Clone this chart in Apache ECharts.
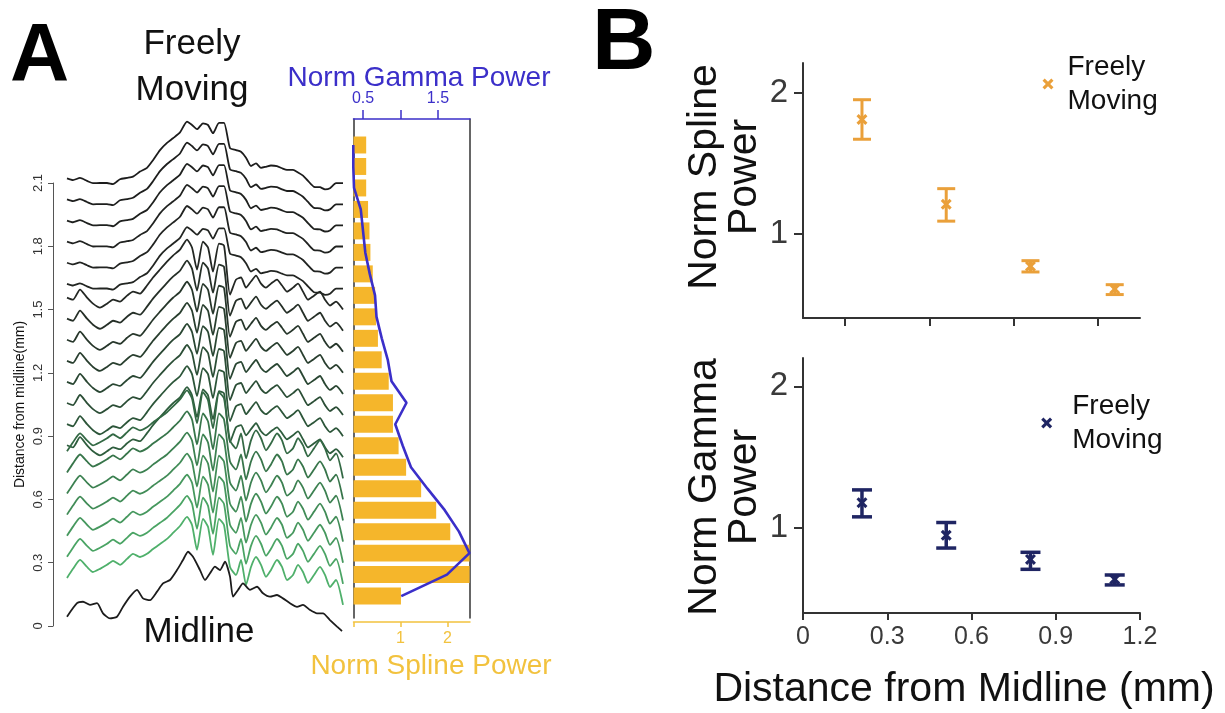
<!DOCTYPE html>
<html>
<head>
<meta charset="utf-8">
<script src="https://cdn.jsdelivr.net/npm/echarts@6/dist/echarts.min.js"></script>
<style>
  html, body { margin: 0; padding: 0; background: #fff; }
  #chart { width: 1225px; height: 713px; }
</style>
</head>
<body>
<div id="chart"></div>
<script>
// ---- panel A: stacked traces (time in samples, amplitude in mm above each baseline) ----
const TRACE_T = [0, 6, 13, 20, 26, 33, 40, 46, 53, 60, 66, 73, 80, 86, 93, 100, 106, 113, 120, 125,
    130, 136, 141, 146, 152, 157, 163, 169, 174, 179, 184, 189, 194, 199, 204, 210, 215, 220, 226, 231,
    236, 241, 247, 253, 258, 263, 269, 276];
const PROFILE_TOP = [0.022, 0.014, 0.024, 0.010, -0.001, 0.000, 0.000, -0.005, 0.018, 0.024,
    0.030, 0.054, 0.072, 0.108, 0.156, 0.190, 0.212, 0.240, 0.291, 0.275,
    0.255, 0.283, 0.275, 0.236, 0.285, 0.285, 0.165, 0.156, 0.148, 0.120,
    0.080, 0.093, 0.072, 0.077, 0.083, 0.080, 0.070, 0.062, 0.062, 0.050,
    0.035, 0.010, -0.018, -0.020, -0.030, -0.025, -0.001, -0.001];
const PROFILE_MID = [0.057, 0.047, 0.095, 0.057, 0.028, 0.009, 0.028, 0.047, 0.038, 0.066,
    0.085, 0.076, 0.114, 0.152, 0.190, 0.227, 0.256, 0.284, 0.332, 0.294,
    0.190, 0.322, 0.294, 0.180, 0.313, 0.303, 0.071, 0.142, 0.152, 0.104,
    0.133, 0.161, 0.123, 0.104, 0.123, 0.142, 0.114, 0.085, 0.104, 0.123,
    0.085, 0.047, 0.066, 0.085, 0.047, 0.019, 0.038, 0.000];
const PROFILE_LOW = [0.128, 0.171, 0.213, 0.180, 0.156, 0.171, 0.190, 0.209, 0.190, 0.218,
    0.242, 0.227, 0.242, 0.265, 0.289, 0.313, 0.341, 0.374, 0.417, 0.379,
    0.261, 0.408, 0.370, 0.237, 0.408, 0.379, 0.180, 0.142, 0.213, 0.095,
    0.180, 0.227, 0.190, 0.133, 0.166, 0.213, 0.180, 0.118, 0.142, 0.190,
    0.156, 0.104, 0.142, 0.180, 0.142, 0.085, 0.118, 0.000];
const TRACE_DIST = [2.1, 2.0, 1.9, 1.8, 1.7, 1.6, 1.5, 1.4, 1.3, 1.2, 1.1,
    1.0, 0.9, 0.8, 0.7, 0.6, 0.5, 0.4, 0.3, 0.2, 0.1];
const TRACE_SHAPE = ["top", "top", "top", "top", "top", "top", "mid", "mid", "mid", "mid", "mid",
    "mid", "mid", "mid", "low", "low", "low", "low", "low", "low", "low"];
const MIDLINE_T = [0, 10, 16, 23, 30, 36, 43, 50, 56, 63, 70, 76, 83, 90, 96, 103, 110, 116, 121, 126,
    133, 138, 143, 148, 153, 158, 163, 166, 171, 176, 183, 190, 196, 203, 210, 216, 223, 230, 236, 243,
    250, 256, 263, 270, 275];
const MIDLINE_V = [0.044, 0.108, 0.115, 0.100, 0.108, 0.060, 0.036, 0.044, 0.091, 0.139,
    0.171, 0.131, 0.123, 0.163, 0.202, 0.218, 0.265, 0.313, 0.352, 0.328,
    0.265, 0.218, 0.250, 0.281, 0.265, 0.305, 0.234, 0.139, 0.171, 0.202,
    0.171, 0.186, 0.155, 0.139, 0.147, 0.131, 0.108, 0.091, 0.100, 0.076,
    0.060, 0.060, 0.028, -0.003, -0.024];
const TRACE_TICKS = ["0", "0.3", "0.6", "0.9", "1.2", "1.5", "1.8", "2.1"];

// ---- panel A: inset bars, from the midline (0 mm) outwards ----
const BAR_DIST = [0, 0.1, 0.2, 0.3, 0.4, 0.5, 0.6, 0.7, 0.8, 0.9, 1.0,
    1.1, 1.2, 1.3, 1.4, 1.5, 1.6, 1.7, 1.8, 1.9, 2.0, 2.1];
const SPLINE_POWER = [1.01, 2.47, 2.47, 2.06, 1.76, 1.44, 1.12, 0.96, 0.84, 0.84, 0.75,
    0.60, 0.52, 0.48, 0.46, 0.41, 0.36, 0.34, 0.31, 0.27, 0.27, 0.27];
const GAMMA_POWER = [1.01, 1.62, 1.92, 1.78, 1.59, 1.36, 1.14, 1.03, 0.93, 1.08, 0.88,
    0.83, 0.75, 0.68, 0.66, 0.59, 0.53, 0.50, 0.47, 0.38, 0.37, 0.37];

// ---- panel B: mean and error range per distance ----
const B_DIST = [0.21, 0.51, 0.81, 1.11];
const B_SPLINE_MEAN = [1.81, 1.21, 0.77, 0.61];
const B_SPLINE_LO = [1.67, 1.09, 0.73, 0.57];
const B_SPLINE_HI = [1.95, 1.32, 0.81, 0.64];
const B_GAMMA_MEAN = [1.18, 0.95, 0.78, 0.64];
const B_GAMMA_LO = [1.08, 0.86, 0.71, 0.60];
const B_GAMMA_HI = [1.27, 1.04, 0.83, 0.67];

const FONT = '"Liberation Sans", Arial, sans-serif';
const BLUE = "#3b2fc9";
const YELLOW = "#f2c23e";
const BAR_COLOR = "#f5b62b";
const ORANGE = "#eaa03a";
const NAVY = "#1f2563";
const AXIS = "#333";
const X_ICON = "path://M2,0 L5,3 L8,0 L10,2 L7,5 L10,8 L8,10 L5,7 L2,10 L0,8 L3,5 L0,2 Z";

const PROFILES = { top: PROFILE_TOP, mid: PROFILE_MID, low: PROFILE_LOW };

function hexToRgb(h) {
    return [1, 3, 5].map((i) => parseInt(h.slice(i, i + 2), 16));
}

function traceColor(dist) {
    const stops = [[0, "#1c1c1c"], [0.3, "#232723"], [0.65, "#2e5d3d"], [1, "#4fb06b"]];
    const t = (2.1 - dist) / 2.0;
    for (let i = 1; i < stops.length; i++) {
        if (t <= stops[i][0]) {
            const [t0, c0] = stops[i - 1];
            const [t1, c1] = stops[i];
            const k = (t - t0) / (t1 - t0);
            const a = hexToRgb(c0), b = hexToRgb(c1);
            return "rgb(" + a.map((v, j) => Math.round(v + (b[j] - v) * k)).join(",") + ")";
        }
    }
    return stops[stops.length - 1][1];
}

function traceSeries() {
    const series = [];
    TRACE_DIST.forEach((d, i) => {
        const prof = PROFILES[TRACE_SHAPE[i]];
        series.push({
            type: "line", xAxisIndex: 0, yAxisIndex: 0, silent: true, clip: false,
            showSymbol: false, smooth: 0.2,
            lineStyle: { color: traceColor(d), width: 1.8 },
            data: TRACE_T.map((t, j) => [t, d + prof[j]]),
        });
    });
    series.push({
        type: "line", xAxisIndex: 0, yAxisIndex: 0, silent: true, clip: false,
        showSymbol: false, smooth: 0.2,
        lineStyle: { color: "#1c1c1c", width: 1.8 },
        data: MIDLINE_T.map((t, j) => [t, MIDLINE_V[j]]),
    });
    return series;
}

function errorBarSeries(name, axis, color, capHalf, width, mean, lo, hi) {
    return [
        {
            type: "custom", xAxisIndex: axis, yAxisIndex: axis, silent: true,
            data: B_DIST.map((x, i) => [x, mean[i], lo[i], hi[i]]),
            encode: { x: 0, y: [1, 2, 3] },
            renderItem(params, api) {
                const x = api.value(0);
                const top = api.coord([x, api.value(3)]);
                const bot = api.coord([x, api.value(2)]);
                const st = { stroke: color, lineWidth: width };
                return {
                    type: "group",
                    children: [
                        { type: "line", shape: { x1: top[0], y1: top[1], x2: bot[0], y2: bot[1] }, style: st },
                        { type: "line", shape: { x1: top[0] - capHalf, y1: top[1], x2: top[0] + capHalf, y2: top[1] }, style: st },
                        { type: "line", shape: { x1: bot[0] - capHalf, y1: bot[1], x2: bot[0] + capHalf, y2: bot[1] }, style: st },
                    ],
                };
            },
        },
        {
            name: name, type: "scatter", xAxisIndex: axis, yAxisIndex: axis,
            symbol: X_ICON, symbolSize: 11, itemStyle: { color: color, opacity: 1 },
            data: B_DIST.map((x, i) => [x, mean[i]]),
        },
    ];
}

function text(x, y, str, size, opts) {
    return Object.assign({
        type: "text", x: x, y: y, silent: true,
        style: {
            text: str, font: (opts && opts.weight ? opts.weight + " " : "") + size + "px " + FONT,
            fill: (opts && opts.color) || "#111",
            align: (opts && opts.align) || "center", textAlign: (opts && opts.align) || "center",
            verticalAlign: "middle", textVerticalAlign: "middle",
            lineHeight: opts && opts.lineHeight,
        },
    }, opts && opts.rotation ? { rotation: opts.rotation } : {});
}

const chart = echarts.init(document.getElementById("chart"), null, { renderer: "canvas" });

const noZero = { onZero: false };

chart.setOption({
    animation: false,
    backgroundColor: "#fff",
    textStyle: { fontFamily: FONT },
    grid: [
        { left: 53, top: 183, width: 290, height: 443 },
        { left: 353.5, top: 119, width: 116.5, height: 499 },
        { left: 803, top: 63, width: 337, height: 255 },
        { left: 803, top: 358, width: 337, height: 255 },
    ],
    xAxis: [
        { gridIndex: 0, type: "value", min: -14, max: 276, show: false },
        {
            gridIndex: 1, type: "value", min: 0, max: 2.48, position: "bottom", offset: 4,
            splitLine: { show: false },
            axisLine: { ...noZero, lineStyle: { color: YELLOW, width: 1.5 } },
            axisTick: { customValues: [0, 1, 2], length: 5, lineStyle: { color: YELLOW, width: 1.5 } },
            axisLabel: { customValues: [1, 2], color: YELLOW, fontSize: 16, margin: 9 },
        },
        {
            gridIndex: 1, type: "value", min: 0.373, max: 1.927, position: "top",
            splitLine: { show: false },
            axisLine: { ...noZero, lineStyle: { color: BLUE, width: 1.5 } },
            axisTick: { customValues: [0.5, 1, 1.5], length: 9, lineStyle: { color: BLUE, width: 1.5 } },
            axisLabel: { customValues: [0.5, 1.5], color: BLUE, fontSize: 16, margin: 12 },
        },
        {
            gridIndex: 2, type: "value", min: 0, max: 1.2,
            splitLine: { show: false },
            axisLine: { ...noZero, lineStyle: { color: AXIS, width: 2 } },
            axisTick: { customValues: [0.15, 0.45, 0.75, 1.05], length: 8, lineStyle: { color: AXIS, width: 2 } },
            axisLabel: { show: false },
        },
        {
            gridIndex: 3, type: "value", min: 0, max: 1.2, interval: 0.3,
            splitLine: { show: false },
            axisLine: { ...noZero, lineStyle: { color: AXIS, width: 2 } },
            axisTick: { length: 7, lineStyle: { color: AXIS, width: 2 } },
            axisLabel: { color: "#3a3a3a", fontSize: 25, margin: 12 },
        },
    ],
    yAxis: [
        {
            gridIndex: 0, type: "value", min: 0, max: 2.1, interval: 0.3,
            splitLine: { show: false },
            axisLine: { show: true, ...noZero, lineStyle: { color: "#555", width: 1 } },
            axisTick: { show: true, length: 5, lineStyle: { color: "#555" } },
            axisLabel: {
                rotate: 90, fontSize: 13, color: "#333", margin: 8,
                formatter: (v) => TRACE_TICKS[Math.round(v / 0.3)],
            },
            name: "Distance from midline(mm)", nameLocation: "middle", nameRotate: 90, nameGap: 26,
            nameTextStyle: { fontSize: 14, color: "#111" },
        },
        {
            gridIndex: 1, type: "value", min: -0.102, max: 2.221,
            splitLine: { show: false }, axisTick: { show: false }, axisLabel: { show: false },
            axisLine: { show: true, ...noZero, lineStyle: { color: AXIS, width: 1.5 } },
        },
        {
            gridIndex: 1, type: "value", min: -0.102, max: 2.221, position: "right",
            splitLine: { show: false }, axisTick: { show: false }, axisLabel: { show: false },
            axisLine: { show: true, ...noZero, lineStyle: { color: AXIS, width: 1.5 } },
        },
        {
            gridIndex: 2, type: "value", min: 0.404, max: 2.21,
            splitLine: { show: false },
            axisLine: { show: true, ...noZero, lineStyle: { color: AXIS, width: 2 } },
            axisTick: { show: true, customValues: [1, 2], length: 9, lineStyle: { color: AXIS, width: 2 } },
            axisLabel: { customValues: [1, 2], color: "#3a3a3a", fontSize: 33, margin: 15 },
        },
        {
            gridIndex: 3, type: "value", min: 0.402, max: 2.2,
            splitLine: { show: false },
            axisLine: { show: true, ...noZero, lineStyle: { color: AXIS, width: 2 } },
            axisTick: { show: true, customValues: [1, 2], length: 9, lineStyle: { color: AXIS, width: 2 } },
            axisLabel: { customValues: [1, 2], color: "#3a3a3a", fontSize: 33, margin: 15 },
        },
    ],
    legend: [
        {
            data: [{ name: "spline", icon: X_ICON }], left: 1042.5, top: 46, padding: 0,
            itemWidth: 11, itemHeight: 11, selectedMode: false, formatter: () => "Freely\nMoving",
            textStyle: { fontSize: 28, lineHeight: 34, color: "#111", padding: [8, 0, 0, 9] },
        },
        {
            data: [{ name: "gamma", icon: X_ICON }], left: 1041.2, top: 384, padding: 0,
            itemWidth: 11, itemHeight: 11, selectedMode: false, formatter: () => "Freely\nMoving",
            textStyle: { fontSize: 28, lineHeight: 34, color: "#111", padding: [10, 0, 0, 15] },
        },
    ],
    graphic: [
        text(10, 57, "A", 82, { weight: "bold", align: "left", color: "#000" }),
        text(592, 45, "B", 88, { weight: "bold", align: "left", color: "#000" }),
        text(192, 67, "Freely\nMoving", 35, { lineHeight: 46 }),
        text(199, 632, "Midline", 35),
        text(419, 78, "Norm Gamma Power", 28, { color: BLUE }),
        text(431, 666, "Norm Spline Power", 28, { color: YELLOW }),
        text(725, 177, "Norm Spline\nPower", 41, { lineHeight: 40, rotation: Math.PI / 2 }),
        text(725, 487, "Norm Gamma\nPower", 41, { lineHeight: 40, rotation: Math.PI / 2 }),
        text(964, 690, "Distance from Midline (mm)", 41),
    ],
    series: [
        ...traceSeries(),
        {
            type: "custom", xAxisIndex: 1, yAxisIndex: 1, silent: true,
            data: BAR_DIST.map((d, i) => [SPLINE_POWER[i], d]),
            encode: { x: 0, y: 1 },
            renderItem(params, api) {
                const d = api.value(1);
                const p0 = api.coord([0, d]);
                const p1 = api.coord([api.value(0), d]);
                const h = api.size([0, 0.1])[1] * 0.79;
                return {
                    type: "rect",
                    shape: { x: p0[0], y: p0[1] - h / 2, width: p1[0] - p0[0], height: h },
                    style: { fill: BAR_COLOR },
                };
            },
        },
        {
            type: "line", xAxisIndex: 2, yAxisIndex: 1, silent: true, clip: false, showSymbol: false,
            lineStyle: { color: BLUE, width: 2.6 },
            data: BAR_DIST.map((d, i) => [GAMMA_POWER[i], d]),
        },
        ...errorBarSeries("spline", 3, ORANGE, 9, 3, B_SPLINE_MEAN, B_SPLINE_LO, B_SPLINE_HI),
        ...errorBarSeries("gamma", 4, NAVY, 10, 3.5, B_GAMMA_MEAN, B_GAMMA_LO, B_GAMMA_HI),
    ],
});
</script>
</body>
</html>
